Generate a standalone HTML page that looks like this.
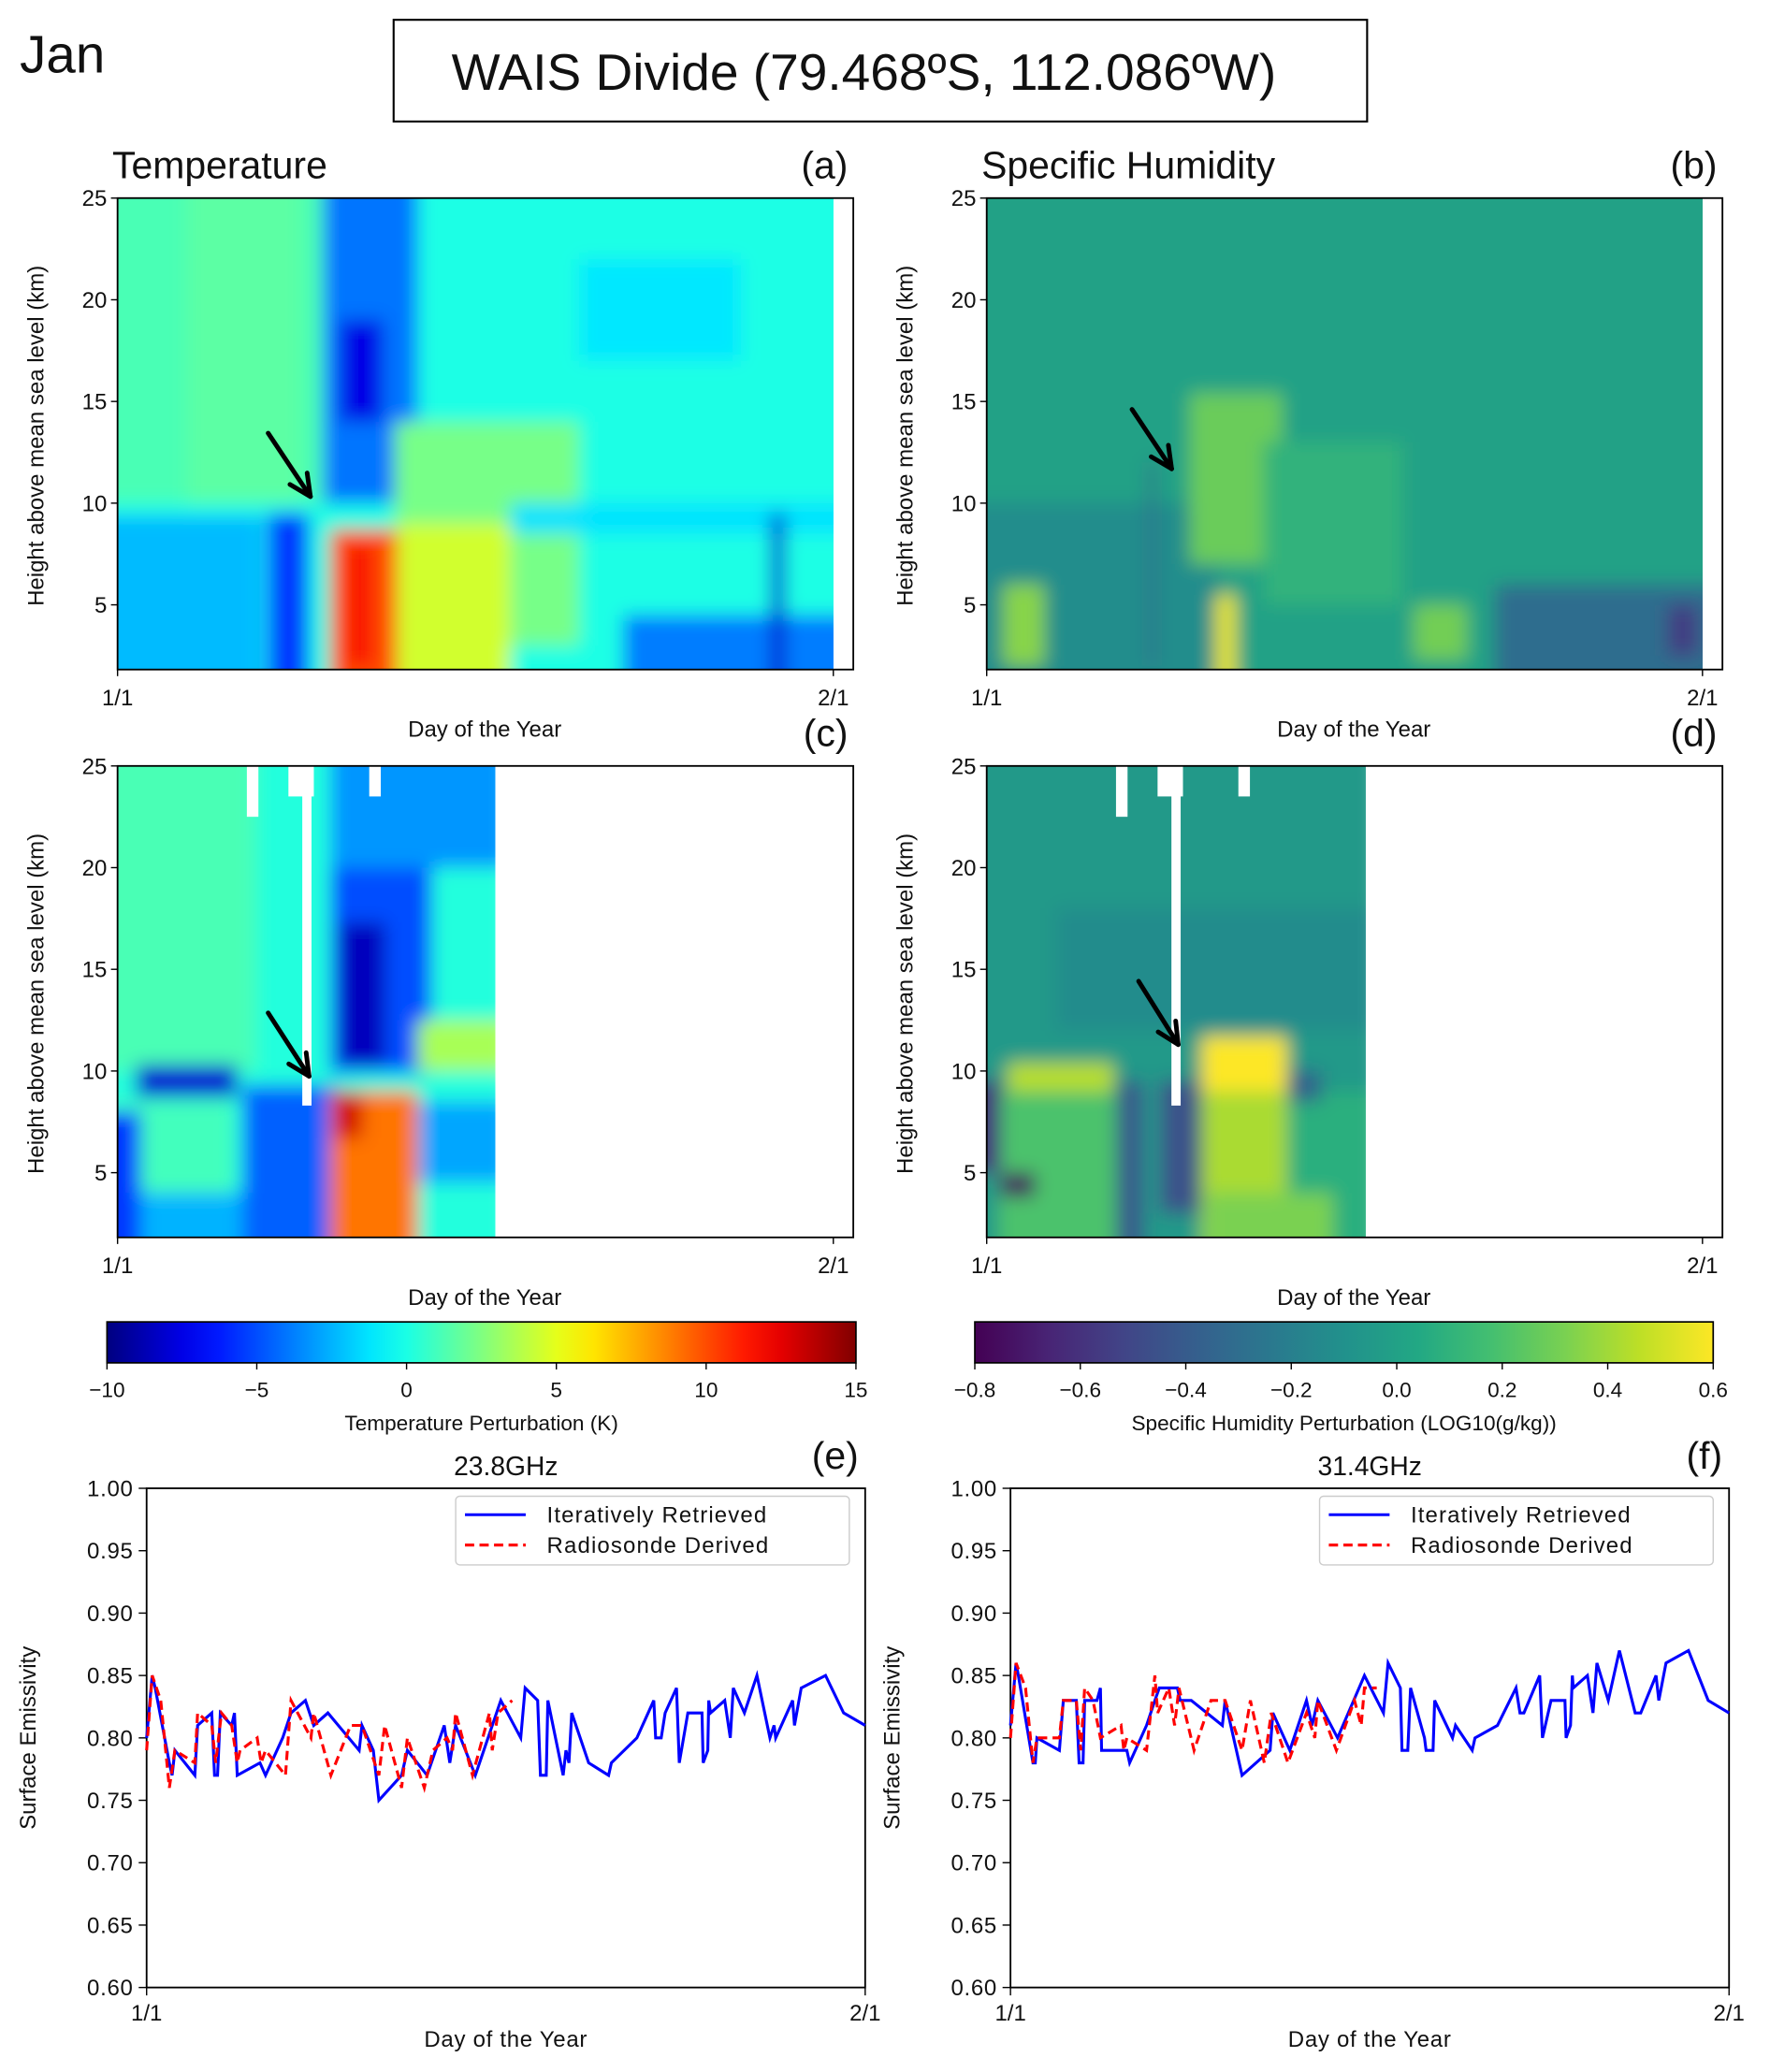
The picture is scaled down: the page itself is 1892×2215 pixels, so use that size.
<!DOCTYPE html>
<html><head><meta charset="utf-8"><style>
html,body{margin:0;padding:0;background:#fff;}
svg{display:block;}
text{font-family:"Liberation Sans",sans-serif;fill:#111;}
</style></head>
<body>
<svg id="fig" xmlns="http://www.w3.org/2000/svg" width="1892" height="2215" viewBox="0 0 1340 1569" preserveAspectRatio="none">
<defs>
<filter id="blur" x="-20%" y="-20%" width="140%" height="140%"><feGaussianBlur stdDeviation="7"/></filter>
<clipPath id="clipA"><rect x="89" y="150" width="542" height="357"/></clipPath>
<clipPath id="clipB"><rect x="747" y="150" width="542" height="357"/></clipPath>
<clipPath id="clipC"><rect x="89" y="580" width="286" height="357"/></clipPath>
<clipPath id="clipD"><rect x="747" y="580" width="287" height="357"/></clipPath>
<linearGradient id="jetGrad" x1="0" x2="1" y1="0" y2="0"></linearGradient>
<linearGradient id="virGrad" x1="0" x2="1" y1="0" y2="0"></linearGradient>
</defs>
<text x="15" y="55" font-size="40">Jan</text>
<rect x="298" y="15" width="737" height="77" fill="none" stroke="#000" stroke-width="1.5"/>
<text x="654" y="68" font-size="39" text-anchor="middle">WAIS Divide (79.468ºS, 112.086ºW)</text>
<g id="layer"></g>
</svg>
<script>
// ---------- data ----------
// heatmap blobs: [dayStart, dayEnd, heightLow(km), heightHigh(km), value]
const tempForecastBlobs = [
 [-2,33,0,27,0.0],[-2,9,10,27,1.2],[3,8,10,27,1.6],[20,27,17,22,-1.2],
 [-2,6.3,0,9.4,-2.3],[6.5,8.3,0,9.5,-5.5],[8.9,13,10,27,-4],[9.6,11.5,14,19,-7.5],
 [12,20,3,14,2.3],[12.1,17,0,9,4.5],[9.2,12.1,0,8.7,10],[10,11,2,8,12],
 [17,33,8.5,10,-1.3],[21.9,33,0,4.5,-3.8],[28.3,28.9,0,9.5,-8]
];
const humForecastBlobs = [
 [-2,33,0,27,0.0],[-2,10,0,10,-0.12],[8.8,12.8,7,15.4,0.28],[12,18,5,13,0.1],
 [9.9,10.8,0,5.5,0.55],[0.7,2.5,2,6,0.35],[18.5,20.8,2.3,5,0.3],
 [22,33,0,6,-0.3],[29.5,30.8,2.5,5,-0.55],[7,7.3,2,12,-0.3]
];
const tempSondeBlobs = [
 [-2,17,0,27,0.2],[-2,6,10,27,1.2],[-2,5,4,8.5,1.0],[-2,5.4,0,4,-2.5],[-2,1,0,8,-5.5],
 [0.8,5.2,8.7,10.3,-8],[5.4,9.6,0,9.3,-4.5],[9.2,17,20,27,-3.2],[9.2,13.6,9.9,20,-5],
 [9.6,11.6,10.3,17.3,-8.5],[13,17,4.5,8.5,-2.8],[13,17,10,12.5,3.5],
 [9.2,13,0,9,9],[9.4,10.6,6.7,9,13]
];
const humSondeBlobs = [
 [-2,17,0,27,-0.05],[3,17,12,18,-0.13],[0.5,5.6,0,9,0.2],[0.9,5.5,9,10.4,0.45],
 [0.6,2.1,3.8,5,-0.75],[-2,0.6,5,9.5,-0.6],[5.6,6.8,0,9.5,-0.4],[7.5,9.3,3,9.5,-0.45],
 [13,17,0,9,0.08],[13,14.5,8.5,10,-0.35],[9.3,13,0,9,0.42],[9.5,15,0,4,0.32],
 [9.3,13,9,11.7,0.6]
];
// missing-data gaps in sonde panels: [dayStart, dayEnd, heightLow]
const gapSegments = [[5.6,6.1,22.5],[7.4,8.5,23.5],[8.0,8.4,8.3],[10.9,11.4,23.5]];

// emissivity series
const daysE_ret = [0,0.24,0.37,0.98,1.10,1.22,2.08,2.2,2.81,2.93,3.06,3.18,3.67,3.79,3.91,4.89,5.13,5.87,6.23,6.85,7.21,7.82,9.17,9.29,9.78,10.02,11.0,11.25,12.1,12.84,13.08,13.33,14.18,15.28,16.14,16.33,16.87,16.99,17.24,17.31,17.97,18.09,18.22,18.34,19.07,19.93,20.05,21.15,21.88,21.96,22.2,22.37,22.86,22.98,23.35,23.96,24.01,24.21,24.25,24.33,24.94,25.18,25.31,25.79,26.33,26.89,27.07,27.14,27.87,27.95,28.24,29.29,30.07,31];
const valsE_ret = [0.80,0.85,0.84,0.78,0.77,0.79,0.77,0.81,0.82,0.77,0.77,0.82,0.81,0.82,0.77,0.78,0.77,0.80,0.82,0.83,0.81,0.82,0.79,0.81,0.79,0.75,0.77,0.79,0.77,0.81,0.78,0.81,0.77,0.83,0.80,0.84,0.83,0.77,0.77,0.83,0.77,0.79,0.78,0.82,0.78,0.77,0.78,0.80,0.83,0.80,0.80,0.82,0.84,0.78,0.82,0.82,0.78,0.79,0.83,0.82,0.83,0.80,0.84,0.82,0.85,0.80,0.81,0.80,0.83,0.81,0.84,0.85,0.82,0.81];
const daysE_rs = [0,0.24,0.61,0.98,1.22,2.08,2.2,2.81,2.98,3.23,3.67,3.91,4.03,4.77,4.94,5.13,5.99,6.23,7.09,7.21,7.95,8.8,9.29,10.02,10.27,11.0,11.25,11.98,12.35,12.96,13.2,13.33,14.06,14.79,14.91,15.16,15.77];
const valsE_rs = [0.79,0.85,0.83,0.76,0.79,0.78,0.82,0.81,0.78,0.82,0.81,0.78,0.79,0.80,0.78,0.79,0.77,0.83,0.80,0.82,0.77,0.81,0.81,0.77,0.81,0.76,0.80,0.76,0.79,0.80,0.79,0.82,0.77,0.82,0.79,0.82,0.83];
const daysF_ret = [0,0.24,0.34,0.97,1.07,1.14,2.11,2.28,2.84,2.96,3.13,3.2,3.73,3.88,3.93,5.02,5.14,5.87,6.23,6.42,7.2,7.32,7.8,9.14,9.26,9.99,11.2,11.32,12.05,12.77,13.01,13.26,14.11,15.27,16.09,16.29,16.82,16.89,17.14,17.26,17.86,17.93,18.23,18.3,19.07,19.2,19.92,20.04,21.01,21.81,21.98,22.15,22.83,22.95,23.32,23.92,23.97,24.16,24.24,24.28,24.89,25.13,25.3,25.79,26.27,26.95,27.19,27.85,27.97,28.28,29.25,30.1,31];
const valsF_ret = [0.81,0.86,0.85,0.78,0.78,0.80,0.79,0.83,0.83,0.78,0.78,0.83,0.83,0.84,0.79,0.79,0.78,0.81,0.83,0.84,0.84,0.83,0.83,0.81,0.83,0.77,0.79,0.82,0.79,0.83,0.81,0.83,0.80,0.85,0.82,0.86,0.84,0.79,0.79,0.84,0.80,0.79,0.79,0.83,0.80,0.81,0.79,0.80,0.81,0.84,0.82,0.82,0.85,0.80,0.83,0.83,0.80,0.81,0.85,0.84,0.85,0.82,0.86,0.83,0.87,0.82,0.82,0.85,0.83,0.86,0.87,0.83,0.82];
const daysF_rs = [0,0.24,0.65,0.97,1.14,2.11,2.28,2.84,3.03,3.2,3.56,3.88,4.77,4.89,5.02,5.87,6.23,6.35,6.83,7.08,7.27,7.92,8.65,9.26,9.99,10.35,10.95,11.25,11.97,12.77,13.13,13.26,14.06,14.84,15.13,15.27,15.8];
const valsF_rs = [0.80,0.86,0.84,0.78,0.80,0.80,0.83,0.83,0.79,0.84,0.83,0.80,0.81,0.79,0.80,0.79,0.85,0.82,0.84,0.81,0.84,0.79,0.83,0.83,0.79,0.83,0.78,0.82,0.78,0.82,0.80,0.83,0.79,0.83,0.81,0.84,0.84];
const heightTicks = [5,10,15,20,25];
const emisTicks = [0.60,0.65,0.70,0.75,0.80,0.85,0.90,0.95,1.00];
const jetTicks = [-10,-5,0,5,10,15];
const virTicks = [-0.8,-0.6,-0.4,-0.2,0.0,0.2,0.4,0.6];

// ---------- helpers ----------
const NS="http://www.w3.org/2000/svg";
const svg=document.getElementById('fig');
const layer=document.getElementById('layer');
function mk(tag,attrs,parent){const e=document.createElementNS(NS,tag);for(const k in attrs)e.setAttribute(k,attrs[k]);(parent||layer).appendChild(e);return e;}
function txt(x,y,s,size,anchor,parent,extra){const t=mk('text',Object.assign({x:x,y:y,'font-size':size,'text-anchor':anchor||'start'},extra||{}),parent);t.textContent=s;return t;}
function clamp(v){return Math.max(0,Math.min(1,v));}
function jet(v){const t=clamp((v+10)/25);const r=clamp(1.5-Math.abs(4*t-3)),g=clamp(1.5-Math.abs(4*t-2)),b=clamp(1.5-Math.abs(4*t-1));return `rgb(${Math.round(r*255)},${Math.round(g*255)},${Math.round(b*255)})`;}
const VS=['#440154','#482475','#414487','#355f8d','#2a788e','#21918c','#22a884','#44bf70','#7ad151','#bddf26','#fde725'];
function hex(h){return [parseInt(h.substr(1,2),16),parseInt(h.substr(3,2),16),parseInt(h.substr(5,2),16)];}
function vir(v){const t=clamp((v+0.8)/1.4)*10;const i=Math.min(9,Math.floor(t)),f=t-i;const a=hex(VS[i]),b=hex(VS[i+1]);return `rgb(${a.map((c,k)=>Math.round(c+(b[k]-c)*f)).join(',')})`;}

// ---------- heatmap panels ----------
function heatPanel(x0,y0,clip,blobs,cmap,name){
  const xs=d=>x0+d*17.48, ys=h=>y0+(25-h)*15.4;
  const g=mk('g',{'clip-path':`url(#${clip})`});
  
  
  const gb=mk('g',{filter:'url(#blur)'},g);
  blobs.forEach(b=>{
    const r=mk('rect',{x:xs(b[0]),y:ys(b[3]),width:xs(b[1])-xs(b[0]),height:ys(b[2])-ys(b[3]),fill:cmap(b[4])},gb);
    
    
  });
  return {xs,ys,g};
}
function frame(x0,y0,name,title,letter){
  const xs=d=>x0+d*17.48, ys=h=>y0+(25-h)*15.4;
  const f=mk('rect',{x:x0,y:y0,width:557,height:357,fill:'none',stroke:'#000','stroke-width':1.3});
  
  
  heightTicks.forEach(h=>{
    mk('line',{x1:x0-5,x2:x0,y1:ys(h),y2:ys(h),stroke:'#000','stroke-width':1});
    const t=txt(x0-8,ys(h)+6,String(h),17,'end');
    
    
  });
  [[0,'1/1'],[31,'2/1']].forEach(p=>{
    mk('line',{x1:xs(p[0]),x2:xs(p[0]),y1:y0+357,y2:y0+362,stroke:'#000','stroke-width':1});
    const t=txt(xs(p[0]),y0+384,p[1],17,'middle');
    
    
  });
  const xl=txt(x0+278,y0+408,'Day of the Year',17,'middle');
  
  
  const yl=txt(0,0,'Height above mean sea level (km)',17,'middle',null,{transform:`translate(${x0-56},${y0+180}) rotate(-90)`});
  
  
  if(title){const t=txt(x0-4,y0-15,title,29);}
  const l=txt(x0+553,y0-15,letter,29,'end');
  
  
}
function arrowAt(x1,y1,x2,y2){
  const g=mk('g',{stroke:'#000','stroke-width':3.5,fill:'none','stroke-linecap':'round'});
  
  
  mk('line',{x1:x1,y1:y1,x2:x2,y2:y2},g);
  const a=Math.atan2(y2-y1,x2-x1),L=18;
  [0.45,-0.45].forEach(s=>mk('line',{x1:x2,y1:y2,x2:x2-L*Math.cos(a+s),y2:y2-L*Math.sin(a+s)},g));
}
heatPanel(89,150,'clipA',tempForecastBlobs,jet,'temperature');
heatPanel(747,150,'clipB',humForecastBlobs,vir,'humidity');
const pc=heatPanel(89,580,'clipC',tempSondeBlobs,jet,'temperature-sonde');
const pd=heatPanel(747,580,'clipD',humSondeBlobs,vir,'humidity-sonde');
[pc,pd].forEach(p=>{
  gapSegments.forEach(s=>{
    const r=mk('rect',{x:p.xs(s[0]),y:p.ys(25),width:p.xs(s[1])-p.xs(s[0]),height:p.ys(s[2])-p.ys(25),fill:'#fff'});
    
    
  });
});
frame(89,150,'panel-a','Temperature','(a)');
frame(747,150,'panel-b','Specific Humidity','(b)');
frame(89,580,'panel-c','','(c)');
frame(747,580,'panel-d','','(d)');
arrowAt(203,328,235,376);
arrowAt(857,310,887,355);
arrowAt(203,767,234,815);
arrowAt(862,743,892,791);

// ---------- colorbars ----------
const jg=document.getElementById('jetGrad'),vg=document.getElementById('virGrad');
for(let i=0;i<=20;i++){const v=-10+25*i/20;mk('stop',{offset:(i/20),'stop-color':jet(v)},jg);}
for(let i=0;i<=20;i++){const v=-0.8+1.4*i/20;mk('stop',{offset:(i/20),'stop-color':vir(v)},vg);}
function colorbar(x0,x1,grad,ticks,vmin,vmax,fmt,label,name){
  const r=mk('rect',{x:x0,y:1001,width:x1-x0,height:31,fill:`url(#${grad})`,stroke:'#000','stroke-width':1.2});
  
  
  ticks.forEach(v=>{
    const x=x0+(v-vmin)/(vmax-vmin)*(x1-x0);
    mk('line',{x1:x,x2:x,y1:1032,y2:1037,stroke:'#000','stroke-width':1});
    const t=txt(x,1058,fmt(v),16,'middle');
    
    
  });
  const l=txt((x0+x1)/2,1083,label,16,'middle');
  
  
}
colorbar(81,648,'jetGrad',jetTicks,-10,15,v=>String(v).replace('-','\u2212'),'Temperature Perturbation (K)','temperature-colorbar');
colorbar(738,1297,'virGrad',virTicks,-0.8,0.6,v=>v.toFixed(1).replace('-','\u2212'),'Specific Humidity Perturbation (LOG10(g/kg))','humidity-colorbar');

// ---------- line charts ----------
function lineChart(x0,title,letter,dRet,vRet,dRs,vRs,name){
  const x1=x0+544,yTop=1127,yBot=1505;
  const xs=d=>x0+d*(x1-x0)/31, ys=v=>yBot-(v-0.6)*(yBot-yTop)/0.4;
  const f=mk('rect',{x:x0,y:yTop,width:x1-x0,height:yBot-yTop,fill:'none',stroke:'#000','stroke-width':1.3});
  
  
  emisTicks.forEach(v=>{
    mk('line',{x1:x0-6,x2:x0,y1:ys(v),y2:ys(v),stroke:'#000','stroke-width':1});
    const t=txt(x0-10,ys(v)+6,v.toFixed(2),17,'end',null,{'letter-spacing':'0.5'});
    
    
  });
  [[0,'1/1'],[31,'2/1']].forEach(p=>{
    mk('line',{x1:xs(p[0]),x2:xs(p[0]),y1:yBot,y2:yBot+6,stroke:'#000','stroke-width':1});
    const t=txt(xs(p[0]),yBot+25,p[1],17,'middle');
    
    
  });
  const xl=txt(x0+272,1550,'Day of the Year',17,'middle',null,{'letter-spacing':'0.5'});
  
  
  const yl=txt(0,0,'Surface Emissivity',17,'middle',null,{transform:`translate(${x0-84},${1316}) rotate(-90)`});
  
  
  const tt=txt(x0+272,1117,title,20,'middle');
  
  
  const lt=txt(x0+539,1112,letter,29,'end');
  
  
  const p1=mk('polyline',{points:dRet.map((d,i)=>xs(d)+','+ys(vRet[i])).join(' '),fill:'none',stroke:'#0000ff','stroke-width':2.2,'stroke-linejoin':'miter'});
  
  
  const p2=mk('polyline',{points:dRs.map((d,i)=>xs(d)+','+ys(vRs[i])).join(' '),fill:'none',stroke:'#ff0000','stroke-width':2.2,'stroke-dasharray':'7,4'});
  
  
  const lg=mk('g',{});
  
  
  const lx=x0+234;
  mk('rect',{x:lx,y:1133,width:298,height:52,rx:3,fill:'#fff',stroke:'#ccc','stroke-width':1},lg);
  mk('line',{x1:lx+7,x2:lx+53,y1:1147,y2:1147,stroke:'#0000ff','stroke-width':2.2},lg);
  mk('line',{x1:lx+7,x2:lx+53,y1:1170,y2:1170,stroke:'#ff0000','stroke-width':2.2,'stroke-dasharray':'7,4'},lg);
  const e1=txt(lx+69,1153,'Iteratively Retrieved',17,'start',lg,{'letter-spacing':'0.8'});
  
  
  const e2=txt(lx+69,1176,'Radiosonde Derived',17,'start',lg,{'letter-spacing':'0.8'});
  
  
}
lineChart(111,'23.8GHz','(e)',daysE_ret,valsE_ret,daysE_rs,valsE_rs,'chart-e');
lineChart(765,'31.4GHz','(f)',daysF_ret,valsF_ret,daysF_rs,valsF_rs,'chart-f');
</script>
</body></html>
